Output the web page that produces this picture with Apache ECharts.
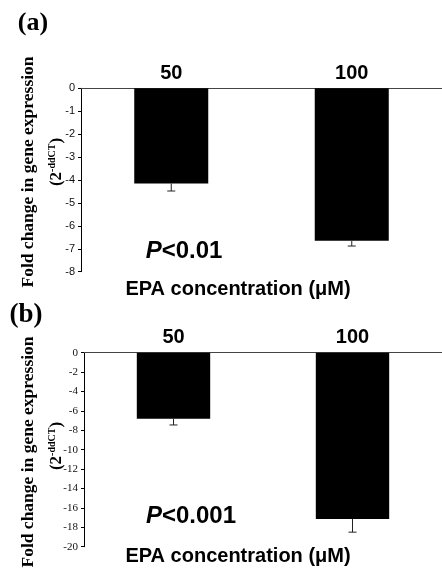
<!DOCTYPE html>
<html><head><meta charset="utf-8">
<script src="https://cdn.jsdelivr.net/npm/echarts@6/dist/echarts.min.js"></script>
<style>html,body{margin:0;padding:0;background:#fff}#c{width:442px;height:575px}</style>
</head><body><div id="c"></div>
<script>
const categories = ['50', '100'];
const valuesA = [-4.15, -6.65];
const errorsA = [0.33, 0.23];
const ticksA = { min: -8, max: 0, interval: 1 };
const valuesB = [-6.8, -17.15];
const errorsB = [0.65, 1.35];
const ticksB = { min: -20, max: 0, interval: 2 };

const chart = echarts.init(document.getElementById('c'));

function errItem(params, api) {
  const x = api.value(0), v = api.value(1), e = api.value(2);
  const p1 = api.coord([x, v]);
  const p2 = api.coord([x, v - e]);
  return { type: 'group', children: [
    { type: 'line', shape: { x1: p1[0], y1: p1[1], x2: p2[0], y2: p2[1] }, style: { stroke: '#222', lineWidth: 1 } },
    { type: 'line', shape: { x1: p2[0] - 4, y1: p2[1], x2: p2[0] + 4, y2: p2[1] }, style: { stroke: '#222', lineWidth: 1 } }
  ]};
}

const xAxisCommon = {
  type: 'category', data: categories, position: 'top',
  axisLine: { lineStyle: { color: '#444', width: 1 } },
  axisTick: { inside: true, length: 3, lineStyle: { color: '#444' } },
  axisLabel: { fontFamily: 'Liberation Sans, Arial', fontWeight: 'bold', fontSize: 20, color: '#000', margin: 5 },
  splitLine: { show: false }
};

const supRich = {
  n: { font: 'bold 17px "Liberation Serif", serif', fill: '#000', lineHeight: 20 },
  s: { font: 'bold 10px "Liberation Serif", serif', fill: '#000', verticalAlign: 'top', lineHeight: 10 }
};
const titleFont = 'bold 17.5px "Liberation Serif", serif';

chart.setOption({
  animation: false,
  grid: [
    { left: 81, top: 88.3, right: -3, height: 183.4 },
    { left: 84, top: 352.7, right: -2, height: 194 }
  ],
  xAxis: [
    Object.assign({ gridIndex: 0 }, xAxisCommon),
    Object.assign({ gridIndex: 1 }, xAxisCommon)
  ],
  yAxis: [
    { gridIndex: 0, type: 'value', min: ticksA.min, max: ticksA.max, interval: ticksA.interval,
      axisLine: { show: true, lineStyle: { color: '#000' } },
      axisTick: { show: true, length: 3, lineStyle: { color: '#000' } },
      axisLabel: { fontFamily: 'Liberation Sans, Arial', fontSize: 11, color: '#111', margin: 6 },
      splitLine: { show: false } },
    { gridIndex: 1, type: 'value', min: ticksB.min, max: ticksB.max, interval: ticksB.interval,
      axisLine: { show: true, lineStyle: { color: '#000' } },
      axisTick: { show: true, length: 3, lineStyle: { color: '#000' } },
      axisLabel: { fontFamily: 'Liberation Serif, Times New Roman', fontSize: 11, color: '#111', margin: 6 },
      splitLine: { show: false } }
  ],
  series: [
    { type: 'bar', xAxisIndex: 0, yAxisIndex: 0, data: valuesA, barWidth: '41%', itemStyle: { color: '#000' } },
    { type: 'custom', xAxisIndex: 0, yAxisIndex: 0, renderItem: errItem, encode: { x: 0, y: 1 },
      data: valuesA.map((v, i) => [i, v, errorsA[i]]), z: 3 },
    { type: 'bar', xAxisIndex: 1, yAxisIndex: 1, data: valuesB, barWidth: '41%', itemStyle: { color: '#000' } },
    { type: 'custom', xAxisIndex: 1, yAxisIndex: 1, renderItem: errItem, encode: { x: 0, y: 1 },
      data: valuesB.map((v, i) => [i, v, errorsB[i]]), z: 3 }
  ],
  graphic: [
    { type: 'text', x: 33, y: 23, style: { text: '(a)', font: 'bold 26px "Liberation Serif", serif', fill: '#000', textAlign: 'center', textVerticalAlign: 'middle' } },
    { type: 'text', x: 26, y: 315, style: { text: '(b)', font: 'bold 27px "Liberation Serif", serif', fill: '#000', textAlign: 'center', textVerticalAlign: 'middle' } },
    { type: 'text', x: 28, y: 172, rotation: Math.PI / 2, style: { text: 'Fold change in gene expression', font: titleFont, fill: '#000', textAlign: 'center', textVerticalAlign: 'middle' } },
    { type: 'text', x: 28, y: 452, rotation: Math.PI / 2, style: { text: 'Fold change in gene expression', font: titleFont, fill: '#000', textAlign: 'center', textVerticalAlign: 'middle' } },
    { type: 'text', x: 57, y: 162, rotation: Math.PI / 2, style: { text: '{n|(2}{s|-ddCT}{n|)}', textAlign: 'center', textVerticalAlign: 'middle', rich: supRich } },
    { type: 'text', x: 57, y: 446, rotation: Math.PI / 2, style: { text: '{n|(2}{s|-ddCT}{n|)}', textAlign: 'center', textVerticalAlign: 'middle', rich: supRich } },
    { type: 'text', x: 184, y: 251, style: { text: '{i|P}{n|<0.01}', textAlign: 'center', textVerticalAlign: 'middle',
      rich: { i: { font: 'italic bold 24px "Liberation Sans", Arial', fill: '#000' }, n: { font: 'bold 24px "Liberation Sans", Arial', fill: '#000' } } } },
    { type: 'text', x: 191, y: 516, style: { text: '{i|P}{n|<0.001}', textAlign: 'center', textVerticalAlign: 'middle',
      rich: { i: { font: 'italic bold 24px "Liberation Sans", Arial', fill: '#000' }, n: { font: 'bold 24px "Liberation Sans", Arial', fill: '#000' } } } },
    { type: 'text', x: 238, y: 289, style: { text: 'EPA concentration (μM)', font: 'bold 20px "Liberation Sans", Arial', fill: '#000', textAlign: 'center', textVerticalAlign: 'middle' } },
    { type: 'text', x: 238, y: 556, style: { text: 'EPA concentration (μM)', font: 'bold 20px "Liberation Sans", Arial', fill: '#000', textAlign: 'center', textVerticalAlign: 'middle' } }
  ]
});
</script></body></html>
